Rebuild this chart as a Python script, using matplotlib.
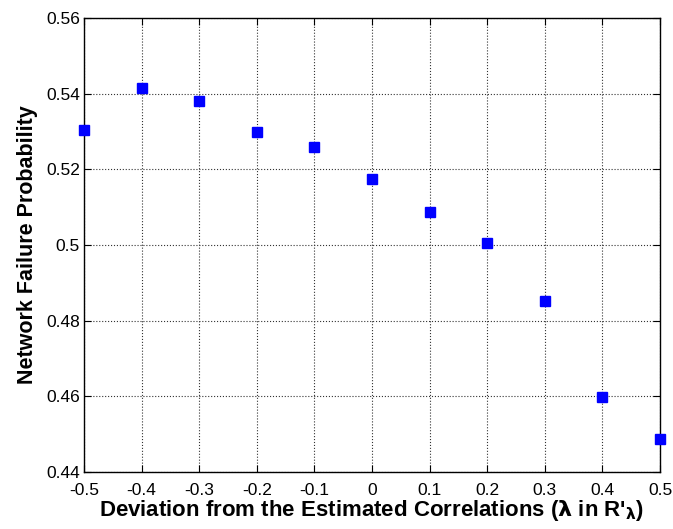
import numpy as np
import matplotlib.pyplot as plt

plt.rcParams['font.family'] = ['Liberation Sans', 'DejaVu Sans']

lam = [-0.5, -0.4, -0.3, -0.2, -0.1, 0.0, 0.1, 0.2, 0.3, 0.4, 0.5]
prob = [0.5304, 0.5415, 0.5381, 0.5299, 0.5258, 0.5174, 0.5087, 0.5005, 0.4852, 0.4599, 0.4486]

xticks = np.round(np.arange(-0.5, 0.51, 0.1), 1)
yticks = [0.44, 0.46, 0.48, 0.5, 0.52, 0.54, 0.56]
xlabels = ['-0.5', '-0.4', '-0.3', '-0.2', '-0.1', '0', '0.1', '0.2', '0.3', '0.4', '0.5']
ylabels = ['0.44', '0.46', '0.48', '0.5', '0.52', '0.54', '0.56']

fig = plt.figure(figsize=(6.73, 5.29), dpi=100)
ax = fig.add_axes([0.1248, 0.1078, 0.856, 0.858])

ax.plot(lam, prob, 's', color='#0000ff', markersize=6.5, clip_on=False, zorder=3)

ax.set_xlim(-0.5, 0.5)
ax.set_ylim(0.44, 0.56)
ax.set_xticks(xticks)
ax.set_xticklabels(xlabels)
ax.set_yticks(yticks)
ax.set_yticklabels(ylabels)
ax.grid(True, linestyle=':', color='#333333', linewidth=0.8)
ax.tick_params(direction='in', top=True, right=True, labelsize=12.5, length=5)
ax.tick_params(axis='x', pad=8)
ax.tick_params(axis='y', pad=3)
for s in ax.spines.values():
    s.set_linewidth(1.0)

ax.set_xlabel("Deviation from the Estimated Correlations ($\\mathbf{\\lambda}$ in R'$_{\\mathbf{\\lambda}}$)",
              fontsize=16, fontweight='bold', labelpad=0)
ax.set_ylabel("Network Failure Probability", fontsize=15.5, fontweight='bold', labelpad=6)

fig.savefig("out.png", dpi=100)
